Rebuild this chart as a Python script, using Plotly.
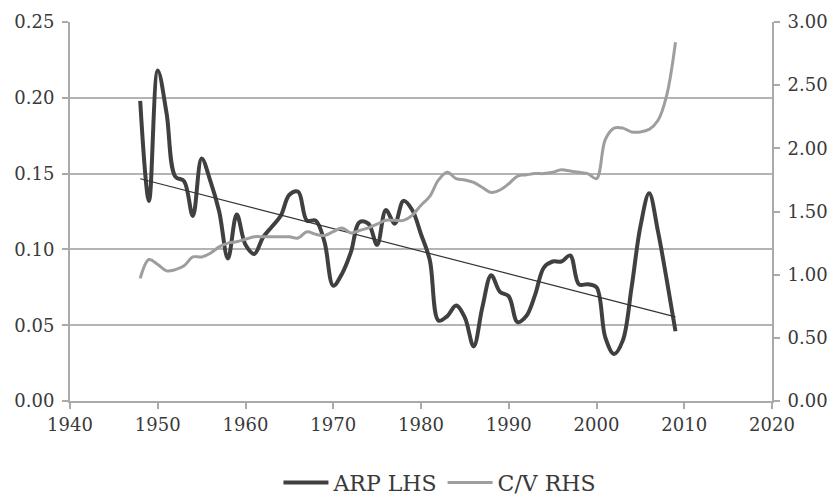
import numpy as np
import plotly.graph_objects as go

# Years covered by both series
years = list(range(1948, 2010))

# ARP, left-hand scale
arp_lhs = [
    0.198, 0.132, 0.218, 0.190, 0.148, 0.145, 0.122, 0.160, 0.145, 0.125,
    0.094, 0.123, 0.103, 0.097, 0.108, 0.115, 0.122, 0.136, 0.138, 0.119,
    0.119, 0.105, 0.076, 0.084, 0.098, 0.118, 0.117, 0.103, 0.126, 0.117,
    0.132, 0.126, 0.110, 0.093, 0.053, 0.056, 0.063, 0.055, 0.036, 0.062,
    0.083, 0.072, 0.069, 0.052, 0.056, 0.070, 0.088, 0.092, 0.092, 0.096,
    0.077, 0.077, 0.075, 0.042, 0.031, 0.040, 0.075, 0.115, 0.137, 0.112,
    0.080, 0.046,
]

# C/V, right-hand scale
cv_rhs = [
    0.97, 1.12, 1.08, 1.03, 1.04, 1.07, 1.14, 1.14, 1.17, 1.22,
    1.25, 1.26, 1.28, 1.30, 1.30, 1.30, 1.30, 1.30, 1.29, 1.34,
    1.32, 1.31, 1.34, 1.37, 1.33, 1.35, 1.37, 1.40, 1.43, 1.43,
    1.43, 1.47, 1.55, 1.62, 1.75, 1.81, 1.76, 1.75, 1.73, 1.69,
    1.65, 1.67, 1.72, 1.78, 1.79, 1.80, 1.80, 1.81, 1.83, 1.82,
    1.81, 1.80, 1.76, 2.07, 2.16, 2.16, 2.13, 2.13, 2.15, 2.22,
    2.42, 2.84,
]

left_ticks = [0.00, 0.05, 0.10, 0.15, 0.20, 0.25]
right_ticks = [0.0, 0.5, 1.0, 1.5, 2.0, 2.5, 3.0]
year_ticks = [1940, 1950, 1960, 1970, 1980, 1990, 2000, 2010, 2020]

# linear trend of ARP, like the spreadsheet trendline
slope, intercept = np.polyfit(years, arp_lhs, 1)
trend = [slope * y + intercept for y in years]

serif = "DejaVu Serif, Liberation Serif, serif"
tick_font = dict(family=serif, size=18, color="#3a3a3a")
legend_font = dict(family=serif, size=22, color="#3a3a3a")
axis_grey = "#aaaaaa"

fig = go.Figure()
fig.add_trace(go.Scatter(
    x=years, y=arp_lhs, name="ARP LHS", mode="lines",
    line=dict(color="#404040", width=4, shape="spline", smoothing=1.0),
))
fig.add_trace(go.Scatter(
    x=years, y=cv_rhs, name="C/V RHS", mode="lines", yaxis="y2",
    line=dict(color="#9e9e9e", width=3, shape="spline", smoothing=1.0),
))
fig.add_trace(go.Scatter(
    x=years, y=trend, mode="lines", showlegend=False,
    line=dict(color="#333333", width=1.2),
))

# the page body keeps its default 8px margin, so the figure is a little smaller
fig.update_layout(
    width=828, height=493,
    margin=dict(l=62, r=64, t=14, b=100, autoexpand=False),
    paper_bgcolor="white", plot_bgcolor="white",
    font=tick_font,
    showlegend=True,
    legend=dict(orientation="h", x=0.527, xanchor="center", y=-0.16, yanchor="top",
                font=legend_font, itemwidth=45, tracegroupgap=0),
    xaxis=dict(
        range=[1940, 2020], tickvals=year_ticks, showgrid=False,
        showline=True, linecolor=axis_grey, linewidth=2,
        ticks="outside", ticklen=6, tickcolor=axis_grey, tickwidth=2,
        zeroline=False, automargin=False, tickfont=tick_font,
    ),
    yaxis=dict(
        range=[0, 0.25], tickvals=left_ticks, tickformat=".2f",
        showgrid=True, gridcolor="#b4b4b4", gridwidth=2,
        showline=True, linecolor=axis_grey, linewidth=2,
        ticks="outside", ticklen=6, tickcolor=axis_grey, tickwidth=2,
        zeroline=False, automargin=False, tickfont=tick_font,
        ticklabelstandoff=4,
    ),
    yaxis2=dict(
        range=[0, 3.0], tickvals=right_ticks, tickformat=".2f",
        overlaying="y", side="right", showgrid=False,
        showline=True, linecolor=axis_grey, linewidth=2,
        ticks="outside", ticklen=6, tickcolor=axis_grey, tickwidth=2,
        zeroline=False, automargin=False, tickfont=tick_font,
        ticklabelstandoff=4,
    ),
)

fig.write_html("out.html")
